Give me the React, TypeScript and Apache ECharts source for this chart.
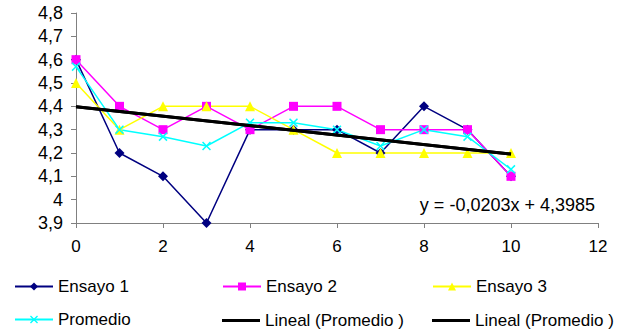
import React, { useEffect, useRef } from "react";
import * as echarts from "echarts";

const xValues = [0, 1, 2, 3, 4, 5, 6, 7, 8, 9, 10];
const ensayo1 = [4.6, 4.2, 4.1, 3.9, 4.3, 4.3, 4.3, 4.2, 4.4, 4.3, 4.1];
const ensayo2 = [4.6, 4.4, 4.3, 4.4, 4.3, 4.4, 4.4, 4.3, 4.3, 4.3, 4.1];
const ensayo3 = [4.5, 4.3, 4.4, 4.4, 4.4, 4.3, 4.2, 4.2, 4.2, 4.2, 4.2];
const promedio = [4.57, 4.3, 4.27, 4.23, 4.33, 4.33, 4.3, 4.23, 4.3, 4.27, 4.13];
const trendX = [0, 10];
const trendY = [4.3985, 4.1955];
const equationText = "y = -0,0203x + 4,3985";
const trendName = "Lineal (Promedio )";

const FONT = "'Liberation Sans', Arial, sans-serif";
const X_MARK =
  "path://M0,1.2L1.2,0L5,3.8L8.8,0L10,1.2L6.2,5L10,8.8L8.8,10L5,6.2L1.2,10L0,8.8L3.8,5Z";

const pairs = (ys: number[]) => xValues.map((x, i) => [x, ys[i]]);

export default function App() {
  const ref = useRef<HTMLDivElement>(null);
  useEffect(() => {
    if (!ref.current) return;
    const chart = echarts.init(ref.current, null, { renderer: "svg" });
    const legendBase = {
      itemWidth: 38,
      itemHeight: 10,
      itemGap: 0,
      textStyle: { fontSize: 17, fontFamily: FONT, color: "#000" },
      formatter: (n: string) => (n.startsWith(trendName) ? trendName : n),
    };
    const legendPos: [string, number, number, boolean][] = [
      ["Ensayo 1", 9, 273, false],
      ["Ensayo 2", 217, 273, false],
      ["Ensayo 3", 427, 273, false],
      ["Promedio", 9, 306, false],
      [trendName, 217, 306, true],
      [trendName + " #2", 427, 306, true],
    ];
    const lineSeries = (
      name: string,
      ys: number[],
      color: string,
      symbol: string,
      size: number
    ) => ({
      type: "line",
      name,
      data: pairs(ys),
      symbol,
      symbolSize: size,
      showSymbol: true,
      lineStyle: { color, width: 1.5 },
      itemStyle: { color },
      z: 2,
    });
    chart.setOption({
      animation: false,
      backgroundColor: "#fff",
      grid: { left: 76, right: 30, top: 13, bottom: 112 },
      xAxis: {
        type: "value",
        min: 0,
        max: 12,
        interval: 2,
        axisLine: { show: true, lineStyle: { color: "#808080", width: 1 } },
        axisTick: { show: true, length: 5, lineStyle: { color: "#808080" } },
        splitLine: { show: false },
        axisLabel: { fontSize: 17, fontFamily: FONT, color: "#000", margin: 15 },
      },
      yAxis: {
        type: "value",
        min: 3.9,
        max: 4.8,
        interval: 0.1,
        axisLine: { show: true, lineStyle: { color: "#808080", width: 1 } },
        axisTick: { show: true, length: 5, lineStyle: { color: "#808080" } },
        splitLine: { show: false },
        axisLabel: {
          fontSize: 18,
          fontFamily: FONT,
          color: "#000",
          margin: 13,
          formatter: (v: number) => {
            const r = Math.round(v * 10) / 10;
            return (Number.isInteger(r) ? String(r) : r.toFixed(1)).replace(".", ",");
          },
        },
      },
      legend: legendPos.map(([name, left, top, isTrend]) => ({
        ...legendBase,
        itemHeight: isTrend ? 3 : 10,
        data: isTrend ? [{ name, icon: "rect" }] : [name],
        left,
        top: isTrend ? top + 1 : top,
      })),
      series: [
        lineSeries("Ensayo 1", ensayo1, "#000080", "diamond", 10),
        lineSeries("Ensayo 2", ensayo2, "#FF00FF", "rect", 9),
        lineSeries("Ensayo 3", ensayo3, "#FFFF00", "triangle", 10),
        lineSeries("Promedio", promedio, "#00FFFF", X_MARK, 9),
        {
          type: "line",
          name: trendName,
          data: trendX.map((x, i) => [x, trendY[i]]),
          symbol: "none",
          lineStyle: { color: "#000", width: 3 },
          itemStyle: { color: "#000" },
          z: 3,
        },
        {
          type: "line",
          name: trendName + " #2",
          data: trendX.map((x, i) => [x, trendY[i]]),
          symbol: "none",
          lineStyle: { color: "#000", width: 3 },
          itemStyle: { color: "#000" },
          z: 3,
        },
      ],
      graphic: [
        {
          type: "text",
          right: 33,
          top: 196,
          style: {
            text: equationText,
            fontSize: 18,
            fontFamily: FONT,
            fill: "#000",
          },
        },
      ],
    });
    return () => chart.dispose();
  }, []);
  return (
    <div
      ref={ref}
      style={{ position: "fixed", left: 0, top: 0, width: 628, height: 335 }}
    />
  );
}
